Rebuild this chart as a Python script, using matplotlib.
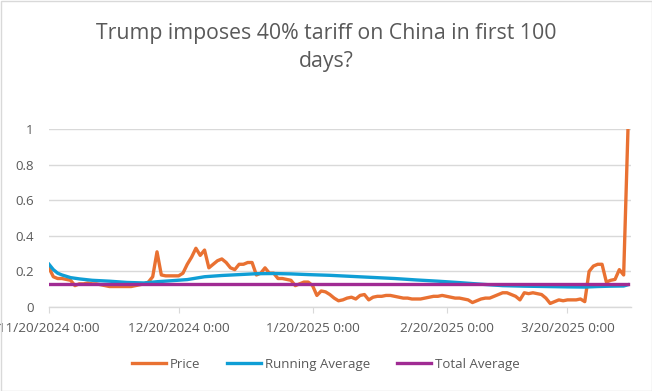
import matplotlib
matplotlib.use("Agg")
import matplotlib.pyplot as plt
import pandas as pd
import numpy as np

plt.rcParams['font.family'] = ['Open Sans', 'DejaVu Sans']

title = "Trump imposes 40% tariff on China in first 100\ndays?"
start_date = "2024-11-20"

price = [
    0.22, 0.17, 0.16, 0.16, 0.155, 0.15, 0.12, 0.13, 0.13, 0.135,
    0.13, 0.13, 0.125, 0.12, 0.115, 0.115, 0.115, 0.115, 0.115, 0.115,
    0.12, 0.125, 0.13, 0.14, 0.17, 0.31, 0.18, 0.175, 0.175, 0.175,
    0.175, 0.19, 0.24, 0.28, 0.33, 0.29, 0.32, 0.22, 0.24, 0.26,
    0.27, 0.25, 0.22, 0.21, 0.24, 0.24, 0.25, 0.25, 0.18, 0.19,
    0.22, 0.19, 0.19, 0.16, 0.16, 0.155, 0.15, 0.12, 0.13, 0.14,
    0.14, 0.12, 0.065, 0.09, 0.085, 0.07, 0.05, 0.035, 0.04, 0.05,
    0.055, 0.045, 0.065, 0.07, 0.04, 0.055, 0.06, 0.06, 0.065, 0.065,
    0.06, 0.055, 0.05, 0.05, 0.045, 0.045, 0.045, 0.05, 0.055, 0.06,
    0.06, 0.065, 0.06, 0.055, 0.05, 0.05, 0.045, 0.04, 0.025, 0.035,
    0.045, 0.05, 0.05, 0.06, 0.07, 0.08, 0.08, 0.07, 0.06, 0.04,
    0.08, 0.075, 0.08, 0.075, 0.07, 0.05, 0.02, 0.03, 0.04, 0.035,
    0.04, 0.04, 0.04, 0.045, 0.03, 0.20, 0.23, 0.24, 0.24, 0.14,
    0.15, 0.155, 0.21, 0.18, 1.0,
]

run_avg_days = [0, 1, 2, 3, 5, 7, 10, 14, 18, 22, 25, 28, 32, 36, 40, 44, 48,
                52, 56, 60, 65, 70, 75, 80, 85, 90, 95, 100, 105, 110, 115,
                120, 124, 127, 130, 133, 134]
run_avg = [0.24, 0.21, 0.19, 0.18, 0.165, 0.158, 0.15, 0.145, 0.138, 0.135,
           0.142, 0.147, 0.154, 0.17, 0.177, 0.182, 0.187, 0.188, 0.186, 0.182,
           0.178, 0.172, 0.166, 0.16, 0.152, 0.145, 0.137, 0.128, 0.12, 0.117,
           0.115, 0.113, 0.112, 0.115, 0.117, 0.118, 0.125]

total_avg = 0.128

labels = ["Price", "Running Average", "Total Average"]
colors = ["#E97132", "#0F9ED5", "#A02B93"]
tick_dates = ["2024-11-20", "2024-12-20", "2025-01-20", "2025-02-20", "2025-03-20"]

dates = pd.date_range(start_date, periods=len(price), freq="D")
ra_dates = pd.to_datetime(start_date) + pd.to_timedelta(run_avg_days, unit="D")

fig = plt.figure(figsize=(6.52, 3.91), dpi=100)
ax = fig.add_axes([49/652, 1-307/391, (631-49)/652, (307-129)/391])

lw = 2.4
ax.plot(dates, price, color=colors[0], lw=lw, label=labels[0], solid_joinstyle='round', zorder=3)
ax.plot(ra_dates, run_avg, color=colors[1], lw=lw, label=labels[1], zorder=4)
ax.plot([dates[0], dates[-1]], [total_avg, total_avg], color=colors[2], lw=lw, label=labels[2], zorder=5)

ax.set_ylim(0, 1)
ax.set_yticks(np.arange(0, 1.01, 0.2))
ax.set_yticklabels(["0", "0.2", "0.4", "0.6", "0.8", "1"])
ax.set_xlim(dates[0], dates[0] + pd.Timedelta(days=134.7))
ticks = pd.to_datetime(tick_dates)
ax.set_xticks(ticks)
ax.set_xticklabels([f"{t.month}/{t.day}/{t.year} 0:00" for t in ticks])

ax.grid(axis='y', color='#D9D9D9', lw=1)
ax.set_axisbelow(True)
for s in ['top', 'right', 'left']:
    ax.spines[s].set_visible(False)
ax.spines['bottom'].set_color('#D9D9D9')
ax.spines['bottom'].set_linewidth(1)
ax.tick_params(axis='y', length=0, pad=11, labelsize=9.5, labelcolor='#595959')
ax.tick_params(axis='x', length=4, color='#D9D9D9', pad=7, labelsize=9.7, labelcolor='#595959')

fig.text(0.5, 1-47.5/391, title, ha='center', va='center', fontsize=15.3,
         color='#595959', linespacing=1.4)

leg = fig.legend(loc='center', bbox_to_anchor=(0.5, 1-364.5/391), ncol=3, frameon=False,
                 fontsize=9.5, labelcolor='#595959', handlelength=2.6, handletextpad=0.3,
                 columnspacing=2.0)

border = plt.Rectangle((0.5/652, 0.5/391), 1-1/652, 1-1/391, transform=fig.transFigure,
                       fill=False, edgecolor='#D9D9D9', lw=1)
fig.patches.append(border)

fig.savefig("out.png", dpi=100)
